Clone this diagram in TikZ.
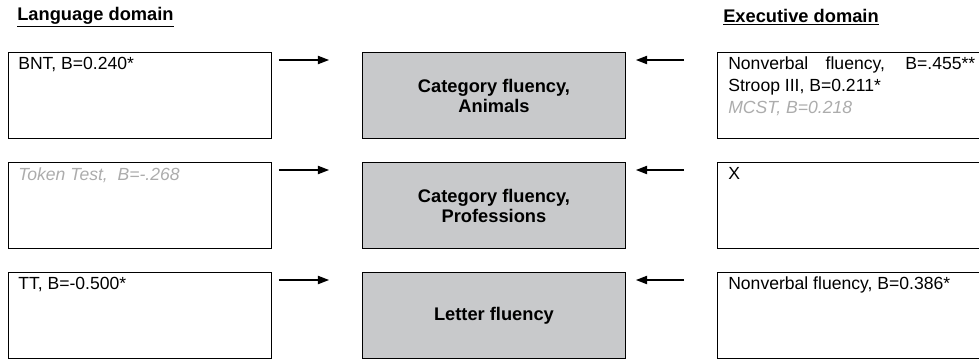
\documentclass[tikz,border=0pt]{standalone}
\usepackage{fontspec}
\setmainfont{Liberation Sans}
\usetikzlibrary{arrows.meta,positioning}
\definecolor{taskgray}{RGB}{200,201,203}
\definecolor{faintgray}{RGB}{172,172,172}
\begin{document}
\begin{tikzpicture}[
  box/.style={draw,line width=.7pt,minimum width=6.575cm,minimum height=2.15cm,anchor=north west,inner sep=0pt},
  taskbox/.style={box,fill=taskgray,font=\bfseries\fontsize{13}{14.2}\selectfont,align=center},
  entry/.style={anchor=north west,inner sep=0pt,align=left,font=\fontsize{12.5}{15.6}\selectfont},
  faint/.style={text=faintgray,font=\itshape\fontsize{12.5}{15.6}\selectfont},
  head/.style={anchor=west,inner sep=0pt,font=\bfseries\fontsize{13}{14}\selectfont},
  link/.style={line width=.8pt,-{Triangle[length=2.8mm,width=2.1mm]}}
]
\useasboundingbox (0,0) rectangle (24.475,9.025);
\node[head] (langhead) at (.425,8.6) {\underline{Language domain}};
\node[head] (exechead) at (18.075,8.6) {\underline{Executive domain}};

% language tests
\node[box] (lang1) at (.2,7.725) {};
\node[box] (lang2) at (.2,4.975) {};
\node[box] (lang3) at (.2,2.225) {};
\node[entry] (bnt) at ([shift={(.25cm,-.13cm)}]lang1.north west) {BNT, B=0.240*};
\node[entry,faint] (token) at ([shift={(.25cm,-.13cm)}]lang2.north west) {Token Test,\ \ B=-.268};
\node[entry] (tt) at ([shift={(.25cm,-.13cm)}]lang3.north west) {TT, B=-0.500*};

% fluency tasks
\node[taskbox] (task1) at (9.05,7.725) {Category fluency,\\Animals};
\node[taskbox] (task2) at (9.05,4.975) {Category fluency,\\Professions};
\node[taskbox] (task3) at (9.05,2.225) {Letter fluency};

% executive tests
\node[box,minimum width=6.7cm] (exec1) at (17.925,7.725) {};
\node[box,minimum width=6.7cm] (exec2) at (17.925,4.975) {};
\node[box,minimum width=6.7cm] (exec3) at (17.925,2.225) {};
\node[entry] (nvf) at ([shift={(.275cm,-.12cm)}]exec1.north west) {\makebox[6.175cm][s]{Nonverbal fluency, B=.455**}\\Stroop III, B=0.211*\\{\color{faintgray}\itshape MCST, B=0.218}};
\node[entry] (none) at ([shift={(.275cm,-.12cm)}]exec2.north west) {X};
\node[entry] (nvf3) at ([shift={(.275cm,-.12cm)}]exec3.north west) {Nonverbal fluency, B=0.386*};

\foreach \i in {1,2,3}{
  \draw[link] ([shift={(.175cm,-.2cm)}]lang\i.north east) -- ([shift={(-.825cm,-.2cm)}]task\i.north west);
  \draw[link] ([shift={(-.825cm,-.2cm)}]exec\i.north west) -- ([shift={(.25cm,-.2cm)}]task\i.north east);
}
\end{tikzpicture}
\end{document}
